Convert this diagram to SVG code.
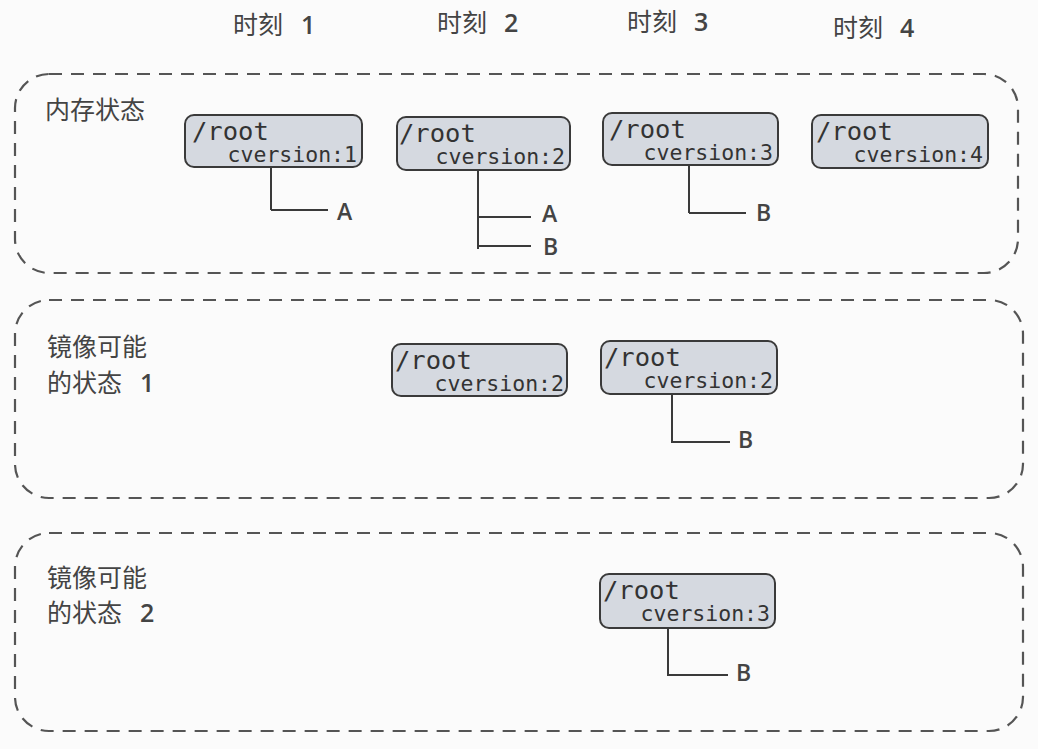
<svg xmlns="http://www.w3.org/2000/svg" width="1038" height="749" viewBox="0 0 1038 749">
<style>
.bg{fill:#fbfbfb}
.group{fill:none;stroke:#555;stroke-width:2.2;stroke-dasharray:13 9}
.node rect{fill:#d5d9e0;stroke:#3a3a3a;stroke-width:2}
.mono{font-family:"DejaVu Sans Mono","Liberation Mono",monospace;fill:#333}
.big{font-size:25.5px}
.small{font-size:21.5px}
.cjk{font-family:"Noto Sans CJK SC","Noto Sans",sans-serif;font-size:25px;fill:#444}
.num{font-family:"Open Sans","Noto Sans",sans-serif;font-weight:600}
.leaf{font-family:"Open Sans","Noto Sans",sans-serif;font-size:23px;font-weight:600;fill:#444}
.conn path{fill:none;stroke:#3a3a3a;stroke-width:2}
</style>
<rect class="bg" x="0" y="0" width="1038" height="749"/>

<g id="headers">
<text class="cjk" x="233" y="34">时刻<tspan class="num" x="301">1</tspan></text>
<text class="cjk" x="437" y="32">时刻<tspan class="num" x="504">2</tspan></text>
<text class="cjk" x="627" y="31">时刻<tspan class="num" x="694">3</tspan></text>
<text class="cjk" x="833" y="37">时刻<tspan class="num" x="900">4</tspan></text>
</g>

<g id="group-memory">
<rect class="group" x="15" y="74" width="1003" height="199" rx="34"/>
<text class="cjk" x="45" y="119">内存状态</text>
</g>
<g id="group-mirror1">
<rect class="group" x="15" y="300" width="1008" height="198" rx="34"/>
<text class="cjk" x="47" y="356">镜像可能</text>
<text class="cjk" x="47" y="392">的状态<tspan class="num" x="140">1</tspan></text>
</g>
<g id="group-mirror2">
<rect class="group" x="15" y="533" width="1008" height="198" rx="34"/>
<text class="cjk" x="47" y="587">镜像可能</text>
<text class="cjk" x="47" y="622">的状态<tspan class="num" x="140">2</tspan></text>
</g>

<g id="node-m1">
<g class="node"><rect x="185" y="115" width="177" height="52" rx="9"/></g>
<text class="mono big" x="192" y="140">/root</text>
<text class="mono small" x="357" y="162" text-anchor="end">cversion:1</text>
</g>
<g id="node-m2">
<g class="node"><rect x="397" y="117" width="173" height="53" rx="9"/></g>
<text class="mono big" x="399" y="142">/root</text>
<text class="mono small" x="565" y="164" text-anchor="end">cversion:2</text>
</g>
<g id="node-m3">
<g class="node"><rect x="603" y="113" width="175" height="52" rx="9"/></g>
<text class="mono big" x="609" y="138">/root</text>
<text class="mono small" x="773" y="160" text-anchor="end">cversion:3</text>
</g>
<g id="node-m4">
<g class="node"><rect x="812" y="115" width="176" height="53" rx="9"/></g>
<text class="mono big" x="816" y="140">/root</text>
<text class="mono small" x="983" y="162" text-anchor="end">cversion:4</text>
</g>
<g id="node-s1a">
<g class="node"><rect x="392" y="344" width="175" height="52" rx="9"/></g>
<text class="mono big" x="395" y="369">/root</text>
<text class="mono small" x="564" y="391" text-anchor="end">cversion:2</text>
</g>
<g id="node-s1b">
<g class="node"><rect x="601" y="341" width="176" height="53" rx="9"/></g>
<text class="mono big" x="604" y="366">/root</text>
<text class="mono small" x="773" y="388" text-anchor="end">cversion:2</text>
</g>
<g id="node-s2">
<g class="node"><rect x="600" y="574" width="175" height="54" rx="9"/></g>
<text class="mono big" x="603" y="599">/root</text>
<text class="mono small" x="770" y="621" text-anchor="end">cversion:3</text>
</g>

<g id="connectors" class="conn">
<path d="M271 167 V210 M271 210 H328"/>
<path d="M478 170 V249 M478 217 H531 M478 246 H531"/>
<path d="M689 165 V213 M689 213 H746"/>
<path d="M672 394 V443 M672 442 H730"/>
<path d="M668 628 V676 M668 675 H728"/>
</g>

<g id="leaves">
<text class="leaf" x="337" y="220">A</text>
<text class="leaf" x="542" y="222">A</text>
<text class="leaf" x="543" y="255">B</text>
<text class="leaf" x="756" y="221">B</text>
<text class="leaf" x="738" y="448">B</text>
<text class="leaf" x="736" y="681">B</text>
</g>
</svg>
